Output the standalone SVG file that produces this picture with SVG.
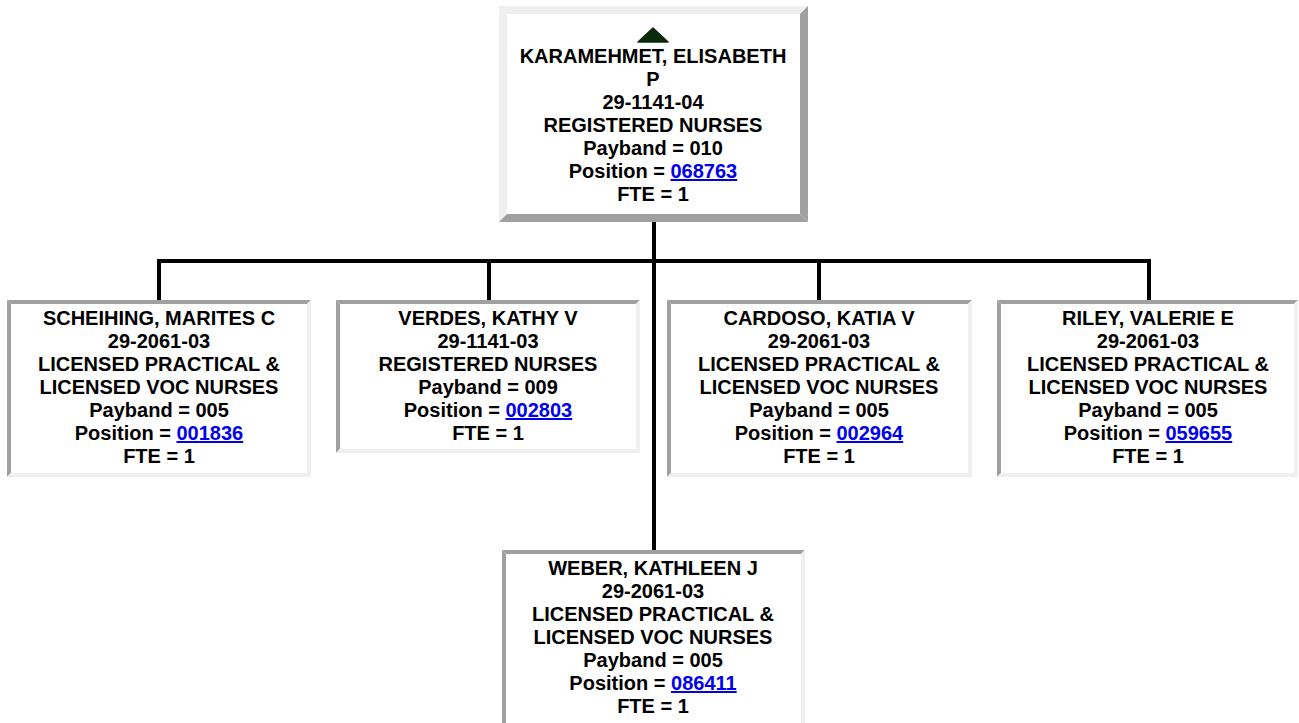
<svg xmlns="http://www.w3.org/2000/svg" width="1299" height="723" viewBox="0 0 1299 723">
<style>
  .t { font-family: "Liberation Sans", Arial, sans-serif; font-weight: bold; font-size: 20px; fill: #000; text-anchor: middle; }
  .lnk { fill: #0000ee; text-decoration: underline; }
  .lt { fill: #efefef; }
  .dk { fill: #a0a0a0; }
  .in { fill: #ffffff; }
  .conn { stroke: #000; stroke-width: 4; fill: none; }
</style>
<rect width="1299" height="723" fill="#fff"/>

<g id="connectors">
  <path class="conn" d="M654 222 V550"/>
  <path class="conn" d="M159 300 V261 H1149 V300"/>
  <path class="conn" d="M489 261 V300"/>
  <path class="conn" d="M819 261 V300"/>
</g>

<g id="node-karamehmet">
  <rect class="in" x="499" y="6" width="309" height="216"/>
  <polygon class="lt" points="499,6 808,6 800,14 507,14"/>
  <polygon class="lt" points="499,6 507,14 507,214 499,222"/>
  <polygon class="dk" points="499,222 507,214 800,214 808,222"/>
  <polygon class="dk" points="808,6 808,222 800,214 800,14"/>
  <path d="M653 28 L668 42 L638 42 Z" fill="#0b2a0b" stroke="#0b2a0b" stroke-width="1.5" stroke-linejoin="round"/>
  <text class="t" x="653" y="63">KARAMEHMET, ELISABETH</text>
  <text class="t" x="653" y="86">P</text>
  <text class="t" x="653" y="109">29-1141-04</text>
  <text class="t" x="653" y="132">REGISTERED NURSES</text>
  <text class="t" x="653" y="155">Payband = 010</text>
  <text class="t" x="653" y="178">Position = <tspan class="lnk">068763</tspan></text>
  <text class="t" x="653" y="201">FTE = 1</text>
</g>

<g id="node-scheihing">
  <rect class="in" x="7" y="300" width="304" height="177"/>
  <polygon class="dk" points="7,300 311,300 307,304 11,304"/>
  <polygon class="dk" points="7,300 11,304 11,473 7,477"/>
  <polygon class="lt" points="7,477 11,473 307,473 311,477"/>
  <polygon class="lt" points="311,300 311,477 307,473 307,304"/>
  <text class="t" x="159" y="325">SCHEIHING, MARITES C</text>
  <text class="t" x="159" y="348">29-2061-03</text>
  <text class="t" x="159" y="371">LICENSED PRACTICAL &amp;</text>
  <text class="t" x="159" y="394">LICENSED VOC NURSES</text>
  <text class="t" x="159" y="417">Payband = 005</text>
  <text class="t" x="159" y="440">Position = <tspan class="lnk">001836</tspan></text>
  <text class="t" x="159" y="463">FTE = 1</text>
</g>

<g id="node-verdes">
  <rect class="in" x="336" y="300" width="304" height="153"/>
  <polygon class="dk" points="336,300 640,300 636,304 340,304"/>
  <polygon class="dk" points="336,300 340,304 340,449 336,453"/>
  <polygon class="lt" points="336,453 340,449 636,449 640,453"/>
  <polygon class="lt" points="640,300 640,453 636,449 636,304"/>
  <text class="t" x="488" y="325">VERDES, KATHY V</text>
  <text class="t" x="488" y="348">29-1141-03</text>
  <text class="t" x="488" y="371">REGISTERED NURSES</text>
  <text class="t" x="488" y="394">Payband = 009</text>
  <text class="t" x="488" y="417">Position = <tspan class="lnk">002803</tspan></text>
  <text class="t" x="488" y="440">FTE = 1</text>
</g>

<g id="node-cardoso">
  <rect class="in" x="667" y="300" width="305" height="177"/>
  <polygon class="dk" points="667,300 972,300 968,304 671,304"/>
  <polygon class="dk" points="667,300 671,304 671,473 667,477"/>
  <polygon class="lt" points="667,477 671,473 968,473 972,477"/>
  <polygon class="lt" points="972,300 972,477 968,473 968,304"/>
  <text class="t" x="819" y="325">CARDOSO, KATIA V</text>
  <text class="t" x="819" y="348">29-2061-03</text>
  <text class="t" x="819" y="371">LICENSED PRACTICAL &amp;</text>
  <text class="t" x="819" y="394">LICENSED VOC NURSES</text>
  <text class="t" x="819" y="417">Payband = 005</text>
  <text class="t" x="819" y="440">Position = <tspan class="lnk">002964</tspan></text>
  <text class="t" x="819" y="463">FTE = 1</text>
</g>

<g id="node-riley">
  <rect class="in" x="997" y="300" width="301" height="177"/>
  <polygon class="dk" points="997,300 1298,300 1294,304 1001,304"/>
  <polygon class="dk" points="997,300 1001,304 1001,473 997,477"/>
  <polygon class="lt" points="997,477 1001,473 1294,473 1298,477"/>
  <polygon class="lt" points="1298,300 1298,477 1294,473 1294,304"/>
  <text class="t" x="1148" y="325">RILEY, VALERIE E</text>
  <text class="t" x="1148" y="348">29-2061-03</text>
  <text class="t" x="1148" y="371">LICENSED PRACTICAL &amp;</text>
  <text class="t" x="1148" y="394">LICENSED VOC NURSES</text>
  <text class="t" x="1148" y="417">Payband = 005</text>
  <text class="t" x="1148" y="440">Position = <tspan class="lnk">059655</tspan></text>
  <text class="t" x="1148" y="463">FTE = 1</text>
</g>

<g id="node-weber">
  <rect class="in" x="502" y="550" width="303" height="180"/>
  <polygon class="dk" points="502,550 805,550 801,554 506,554"/>
  <polygon class="dk" points="502,550 506,554 506,730 502,730"/>
  <polygon class="lt" points="805,550 805,730 801,730 801,554"/>
  <text class="t" x="653" y="575">WEBER, KATHLEEN J</text>
  <text class="t" x="653" y="598">29-2061-03</text>
  <text class="t" x="653" y="621">LICENSED PRACTICAL &amp;</text>
  <text class="t" x="653" y="644">LICENSED VOC NURSES</text>
  <text class="t" x="653" y="667">Payband = 005</text>
  <text class="t" x="653" y="690">Position = <tspan class="lnk">086411</tspan></text>
  <text class="t" x="653" y="713">FTE = 1</text>
</g>
</svg>
